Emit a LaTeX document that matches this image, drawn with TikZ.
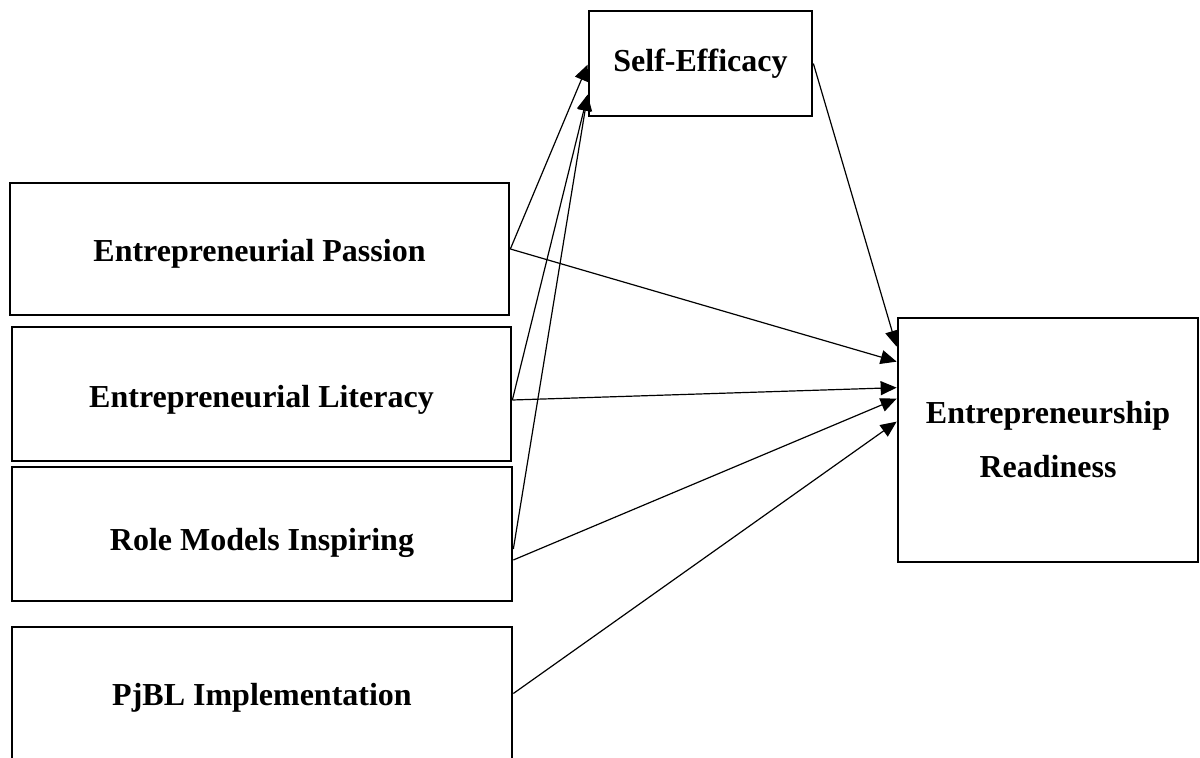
\documentclass[tikz,border=0pt]{standalone}
\usepackage{fontspec}
\setmainfont{Liberation Serif}
\usetikzlibrary{arrows.meta}
\begin{document}
\begin{tikzpicture}[x=0.5pt,y=-0.5pt,
  varbox/.style={draw=black,line width=1.35pt,fill=white,inner sep=0pt,
    font=\fontsize{16}{27}\selectfont\bfseries,align=center},
  boxtext/.style={font=\fontsize{16}{27}\selectfont\bfseries,inner sep=0pt},
  path/.style={line width=0.6pt,-{Triangle[length=8pt,width=7pt]}}]
\useasboundingbox (0,0) rectangle (1200,758);
% construct boxes
\node[varbox,minimum width=111.5pt,minimum height=52.5pt] (SE) at (700.5,63.5) {Self-Efficacy};
\node[varbox,minimum width=249.5pt,minimum height=66pt,
  label={[boxtext,yshift=-2.5pt]center:Entrepreneurial Passion}] (P) at (259.5,249) {};
\node[varbox,minimum width=249.5pt,minimum height=67pt,
  label={[boxtext,yshift=-3pt]center:Entrepreneurial Literacy}] (L) at (261.5,394) {};
\node[varbox,minimum width=250pt,minimum height=67pt,
  label={[boxtext,yshift=-4.5pt]center:Role Models Inspiring}] (RM) at (262,534) {};
\node[varbox,minimum width=250pt,minimum height=66.5pt,
  label={[boxtext,yshift=-2pt]center:PjBL Implementation}] (PJ) at (262,693.5) {};
\node[varbox,minimum width=150pt,minimum height=122pt] (ER) at (1048,440) {Entrepreneurship\\Readiness};
% paths to the mediator
\draw[path] (P.east) -- ([yshift=-27.5pt]SE.north west);
\draw[path] ([yshift=-3pt]L.east) -- ([yshift=-42.5pt]SE.north west);
\draw[path] ([yshift=-7.5pt]RM.east) -- ([yshift=-42.5pt]SE.north west);
% paths to the outcome
\draw[path] (SE.east) -- ([yshift=-15pt]ER.north west);
\draw[path] (P.east) -- ([yshift=-22.5pt]ER.north west);
\draw[path] ([yshift=-3pt]L.east) -- ([yshift=-35.5pt]ER.north west);
\draw[path] ([yshift=-13pt]RM.east) -- ([yshift=-41pt]ER.north west);
\draw[path] (PJ.east) -- ([yshift=-52.5pt]ER.north west);
\end{tikzpicture}
\end{document}
